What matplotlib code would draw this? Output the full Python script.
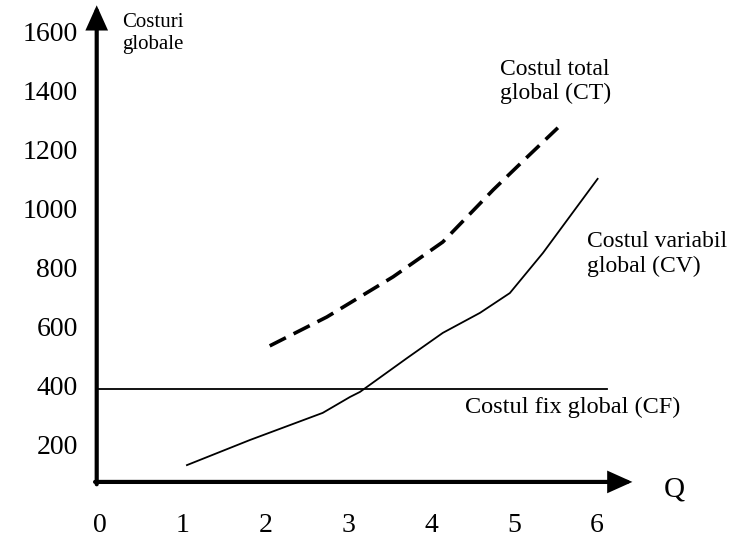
import matplotlib.pyplot as plt
import numpy as np

plt.rcParams['font.family'] = ['Liberation Serif', 'DejaVu Serif']

# Data
q_ticks = [0, 1, 2, 3, 4, 5, 6]
cost_ticks = [200, 400, 600, 800, 1000, 1200, 1400, 1600]

cf_value = 400

cv_q = [1.05, 1.81, 2.69, 3.02, 3.14, 3.71, 4.14, 4.59, 4.95, 5.35, 5.76, 6.01]
cv_cost = [142, 227, 319, 373, 390, 505, 590, 658, 725, 861, 1017, 1112]

ct_q = [2.05, 2.74, 3.54, 4.14, 4.75, 5.16, 5.53]
ct_cost = [546, 644, 780, 898, 1075, 1186, 1285]

fig = plt.figure(figsize=(7.43, 5.38), dpi=100)
ax = fig.add_axes([0, 0, 1, 1])
ax.set_xlim(-1.208, 7.766)
ax.set_ylim(-105, 1718)
ax.axis('off')

# Axes with arrows
x0, y0 = -0.04, 85
ax.annotate('', xy=(x0, 1700), xytext=(x0, y0 - 8),
            arrowprops=dict(arrowstyle='-|>,head_length=1.0,head_width=0.45',
                            lw=3, color='black', mutation_scale=13,
                            shrinkA=0, shrinkB=0, joinstyle='miter'))
ax.annotate('', xy=(6.43, y0), xytext=(x0 - 0.02, y0),
            arrowprops=dict(arrowstyle='-|>,head_length=1.0,head_width=0.45',
                            lw=3, color='black', mutation_scale=13,
                            shrinkA=0, shrinkB=0, joinstyle='miter'))

# Fixed cost
ax.plot([x0, 6.12], [cf_value, cf_value], color='black', lw=1.3)

# Variable cost
ax.plot(cv_q, cv_cost, color='black', lw=1.3)

# Total cost (dashed)
ax.plot(ct_q, ct_cost, color='black', lw=2.6, dashes=(5.0, 2.4))

# Tick labels
for v in cost_ticks:
    ax.text(-0.27, v, str(v), ha='right', va='center', fontsize=20)
for q in q_ticks:
    ax.text(q, -61, str(q), ha='center', va='center', fontsize=20)

# Annotations
ax.text(0.27, 1605, 'Costuri\nglobale', ha='left', va='center', fontsize=15,
        linespacing=1.2)
ax.text(4.83, 1441, 'Costul total\nglobal (CT)', ha='left', va='center',
        fontsize=17, linespacing=1.2)
ax.text(5.88, 858, 'Costul variabil\nglobal (CV)', ha='left', va='center',
        fontsize=17, linespacing=1.2)
ax.text(4.41, 336, 'Costul fix global (CF)', ha='left', va='center',
        fontsize=17.5)
ax.text(6.94, 58, 'Q', ha='center', va='center', fontsize=21)

plt.savefig('out.png', dpi=100)
plt.close()
